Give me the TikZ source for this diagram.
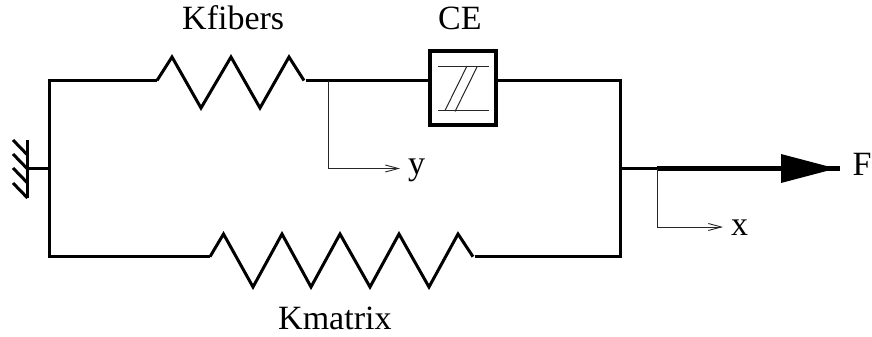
\documentclass[tikz,border=0pt]{standalone}
\usepackage{fontspec}
\setmainfont{Liberation Serif}
\usetikzlibrary{arrows.meta}
\tikzset{
  wire/.style={line width=3pt,line join=miter,line cap=butt},
  thinwire/.style={line width=1pt,black!85},
  probe/.style={thinwire,-{Straight Barb[length=13pt,width=7pt,line width=0.9pt]}},
  txt/.style={font=\fontsize{34}{34}\selectfont,inner sep=0pt,anchor=base west},
  element/.style={draw,line width=3.2pt,inner sep=0pt,minimum width=66pt,minimum height=74pt,fill=white}
}
\begin{document}
\begin{tikzpicture}[x=1pt,y=-1pt]
\useasboundingbox (0,0) rectangle (872,337);
% anchors
\coordinate (tl) at (49.5,80.5);
\coordinate (bl) at (49.5,256.7);
\coordinate (tr) at (620.7,80.5);
\coordinate (br) at (620.7,256.7);
\coordinate (midl) at (49.5,168.5);
\coordinate (midr) at (620.7,168.5);
\coordinate (wall) at (27.5,168.5);
\coordinate (ks) at (157,80.5);
\coordinate (ke) at (304,80.5);
\coordinate (ks2) at (306,80.5);
\coordinate (ms) at (210,256.7);
\coordinate (me) at (473,256.7);
\coordinate (me2) at (475,256.7);
\coordinate (ytap) at (328,80.5);
\coordinate (ybend) at (328,168.5);
\coordinate (yend) at (400,168.5);
\coordinate (xtap) at (657,168.5);
\coordinate (xbend) at (657,227);
\coordinate (xend) at (723,227);
\coordinate (hu) at (781,154);
\coordinate (hd) at (781,183);
\coordinate (ht) at (836,168.5);
\coordinate (ft) at (840,168.5);
% CE element
\node[element] (ce) at (463,88) {};
\coordinate (l1a) at (438,66); \coordinate (l1b) at (489,66);
\coordinate (l2a) at (438,110); \coordinate (l2b) at (489,110);
\coordinate (s1a) at (445,110.5); \coordinate (s1b) at (467,66);
\coordinate (s2a) at (455,111.5); \coordinate (s2b) at (477,67);
\draw[thinwire] (l1a) -- (l1b);
\draw[thinwire] (l2a) -- (l2b);
\draw[thinwire] (s1a) -- (s1b);
\draw[thinwire] (s2a) -- (s2b);
% main frame
\draw[wire] (ce.west |- ks2) -- (ks2);
\draw[wire] (ks) -- (tl) -- (bl) -- (ms);
\draw[wire] (ce.east |- tr) -- (tr) -- (br) -- (me2);
% springs
\draw[wire] (ks) -- (172,57) -- (201,108) -- (231,57) -- (260,108) -- (289,57) -- (ke);
\draw[wire] (ms) -- (223.5,234) -- (253,287) -- (282,234) -- (311,287) -- (340,234)
  -- (370,287) -- (399,234) -- (429,287) -- (458,234) -- (me);
% ground
\draw[wire] (midl) -- (wall);
\draw[wire] (27.5,140) -- (27.5,198);
\draw[wire] (13,140) -- (27.5,155);
\draw[wire] (13,154) -- (27.5,169);
\draw[wire] (13,168) -- (27.5,183);
\draw[wire] (13,183) -- (27.5,198);
% force
\draw[wire] (midr) -- (xtap);
\draw[line width=4.4pt] (xtap) -- (ft);
\fill (hu) -- (ht) -- (hd) -- cycle;
% probes
\draw[probe] (ytap) -- (ybend) -- (yend);
\draw[probe] (xtap) -- (xbend) -- (xend);
% labels
\node[txt] (kf) at (182,30) {Kfibers};
\node[txt] (cel) at (438,30) {CE};
\node[txt] (km) at (278,329) {Kmatrix};
\node[txt] (yl) at (408,174) {y};
\node[txt] (xl) at (731,235) {x};
\node[txt] (fl) at (852.5,175) {F};
\end{tikzpicture}
\end{document}
